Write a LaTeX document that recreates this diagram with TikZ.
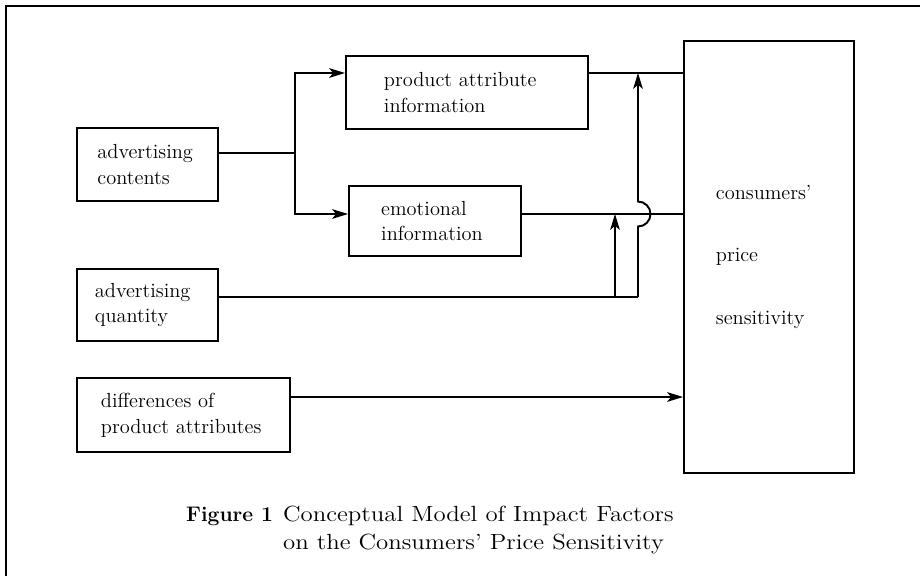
\documentclass[tikz,border=0pt]{standalone}
\usetikzlibrary{arrows.meta}

\begin{document}
\begin{tikzpicture}[x = 0.02cm, y = -0.02cm, line width = 1.1pt,
        box/.style = {draw, anchor = north west, align = left, inner xsep = 0pt, inner ysep = 0pt, font = \fontsize{11.6}{14.7}\selectfont},
        link/.style = {-{Stealth[length = 9pt, width = 5.5pt, inset = 2.2pt]}}]
    \useasboundingbox (0, 0) rectangle (920, 576);
    \draw (6, 576) -- (6, 6) -- (920, 6);
    % factors
    \node[box, minimum width = 2.82cm, minimum height = 1.46cm, text width = 2cm] (content) at (76, 127) {advertising\\contents};
    \node[box, minimum width = 2.82cm, minimum height = 1.44cm, text width = 2.1cm] (quantity) at (76, 268) {advertising\\quantity};
    \node[box, minimum width = 4.26cm, minimum height = 1.48cm, text width = 3.3cm] (diff) at (76, 377) {differences of\\product attributes};
    \node[box, minimum width = 4.84cm, minimum height = 1.46cm, text width = 3.32cm] (attr) at (345, 55) {product attribute\\information};
    \node[box, minimum width = 3.44cm, minimum height = 1.4cm, text width = 2.15cm] (emot) at (348, 185) {emotional\\information};
    \node[box, minimum width = 3.4cm, minimum height = 8.64cm, text width = 2.12cm, font = \fontsize{11.6}{35.7}\selectfont] (price) at (683, 40) {consumers'\\price\\sensitivity};
    % connectors
    \coordinate (split) at (295, 153);
    \coordinate (top) at (295, 73);
    \coordinate (low) at (295, 214);
    \coordinate (qa) at (615, 297);
    \coordinate (qb) at (638, 297);
    \coordinate (dline) at (400, 397);
    \draw (split -| content.east) -- (split);
    \draw[link] (split) |- (top -| attr.west);
    \draw[link] (split) |- (low -| emot.west);
    \draw (top -| attr.east) -- (top -| price.west);
    \draw (low -| emot.east) -- (low -| price.west);
    \draw (qb -| quantity.east) -- (qb);
    \draw[link] (qa) -- (qa |- low);
    \draw[link] (qb) -- ++(0, -70.5) arc[start angle = -90, end angle = 90, radius = 0.25cm] -- (qb |- top);
    \draw[link] (dline -| diff.east) -- (dline -| price.west);
    % caption
    \begin{scope}[shift = {(282, 505)}, xscale = 1.13]
        \node[anchor = north west, align = left, inner sep = 0pt, transform shape, font = \fontsize{12.5}{15.9}\selectfont] (title) at (0, 0) {Conceptual Model of Impact Factors\\on the Consumers' Price Sensitivity};
    \end{scope}
    \node[anchor = north east, inner sep = 0pt, font = \fontsize{12}{14}\selectfont\bfseries] (figno) at (274, 506) {Figure 1};
\end{tikzpicture}
\end{document}
